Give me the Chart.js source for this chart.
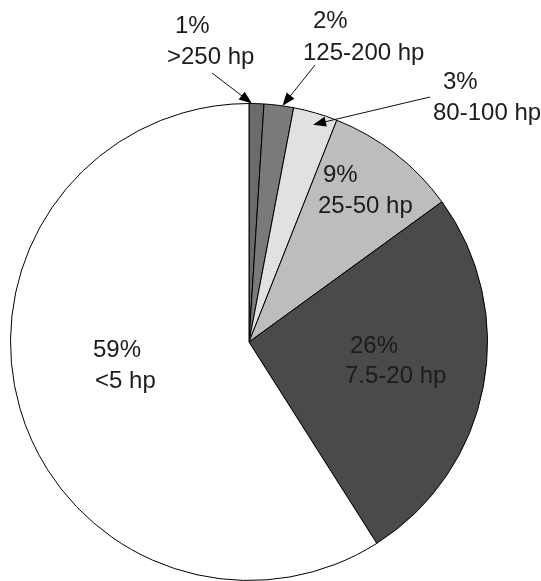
<!DOCTYPE html>
<html>
<head>
<meta charset="utf-8">
<script src="https://cdn.jsdelivr.net/npm/chart.js@4/dist/chart.umd.min.js"></script>
<style>
	html, body { margin: 0; padding: 0; background: #ffffff; }
	canvas { display: block; }
</style>
</head>
<body>
<canvas id="chart" width="541" height="581"></canvas>
<script>
/* ==========================================================================
 Data
 ========================================================================== */

const categories = ['>250 hp', '125-200 hp', '80-100 hp', '25-50 hp', '7.5-20 hp', '<5 hp'];
const shares = [1, 2, 3, 9, 26, 59];
const sliceColors = ['#6b6b6b', '#7a7a7a', '#e1e1e1', '#bdbdbd', '#4a4a4a', '#ffffff'];

/* ==========================================================================
 Label layout (text anchors in px, arrows point into the slice)
 ========================================================================== */

const labelLayout = [
	{lines: [[175, 33], [167, 64]], arrow: {from: [212, 73], frac: 0.2, depth: 1.0}},
	{lines: [[313, 28], [303, 60]], arrow: {from: [315, 65], frac: 0.62, depth: 1.0}},
	{lines: [[443, 89], [433, 120]], arrow: {from: [430, 97], frac: 0.52, depth: 0.95}},
	{lines: [[323, 182], [318, 213]]},
	{lines: [[350, 353], [345, 383]]},
	{lines: [[93, 357], [95, 388]]},
];

const drawArrow = (ctx, x0, y0, x1, y1) => {
	const ang = Math.atan2(y1 - y0, x1 - x0);
	const len = 13;
	const half = 5;
	ctx.beginPath();
	ctx.moveTo(x0, y0);
	ctx.lineTo(x1 - Math.cos(ang) * len * 0.8, y1 - Math.sin(ang) * len * 0.8);
	ctx.stroke();
	ctx.beginPath();
	ctx.moveTo(x1, y1);
	ctx.lineTo(x1 - Math.cos(ang) * len - Math.sin(ang) * half, y1 - Math.sin(ang) * len + Math.cos(ang) * half);
	ctx.lineTo(x1 - Math.cos(ang) * len + Math.sin(ang) * half, y1 - Math.sin(ang) * len - Math.cos(ang) * half);
	ctx.closePath();
	ctx.fill();
};

const sliceLabels = {
	id: 'sliceLabels',
	afterDatasetsDraw(chart) {
		const ctx = chart.ctx;
		const arcs = chart.getDatasetMeta(0).data;
		ctx.save();
		ctx.font = "24px 'Liberation Sans', Arial, sans-serif";
		ctx.fillStyle = '#1c1c1c';
		ctx.strokeStyle = '#111111';
		ctx.lineWidth = 1;
		ctx.textAlign = 'left';
		ctx.textBaseline = 'alphabetic';

		arcs.forEach((arc, i) => {
			const layout = labelLayout[i];
			const texts = [shares[i] + '%', categories[i]];
			layout.lines.forEach((pos, j) => {
				ctx.fillText(texts[j], pos[0], pos[1]);
			});

			if (layout.arrow) {
				const {x, y, startAngle, endAngle, outerRadius} = arc.getProps(['x', 'y', 'startAngle', 'endAngle', 'outerRadius'], true);
				const a = startAngle + layout.arrow.frac * (endAngle - startAngle);
				const r = outerRadius * layout.arrow.depth;
				ctx.fillStyle = '#000000';
				drawArrow(ctx, layout.arrow.from[0], layout.arrow.from[1], x + Math.cos(a) * r, y + Math.sin(a) * r);
				ctx.fillStyle = '#1c1c1c';
			}
		});
		ctx.restore();
	}
};

/* ==========================================================================
 Config
 ========================================================================== */

const config = {
	type: 'pie',
	data: {
		labels: categories,
		datasets: [{
			data: shares,
			backgroundColor: sliceColors,
			borderColor: '#000000',
			borderWidth: 1,
		}],
	},
	options: {
		responsive: false,
		animation: false,
		layout: {
			padding: {left: 10, right: 53, top: 103, bottom: 0},
		},
		plugins: {
			legend: {display: false},
			tooltip: {enabled: false},
		},
	},
	plugins: [sliceLabels],
};

/* ==========================================================================
 Render
 ========================================================================== */

const myChart = new Chart(document.getElementById('chart'), config);
</script>
</body>
</html>
